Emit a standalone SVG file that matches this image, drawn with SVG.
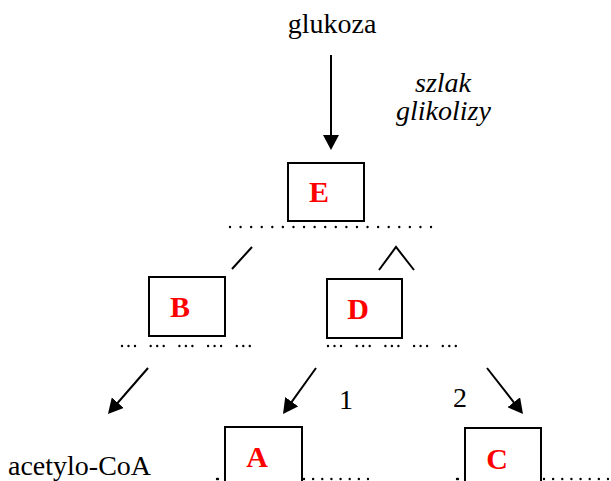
<svg xmlns="http://www.w3.org/2000/svg" width="611" height="481" viewBox="0 0 611 481">
<style>
.t{font-family:"Liberation Serif","Times New Roman",serif;font-size:28px;fill:#000}
.i{font-style:italic}
.lbl{font-family:"Liberation Serif","Times New Roman",serif;font-size:30px;font-weight:bold;fill:#ff0000;text-anchor:middle}
.box{fill:#fff;stroke:#000;stroke-width:2}
.ln{fill:none;stroke:#000;stroke-width:2}
.dot{fill:none;stroke:#000;stroke-width:2.4;stroke-linecap:round}
</style>
<defs>
<marker id="ah" markerUnits="userSpaceOnUse" markerWidth="16" markerHeight="16" refX="9" refY="8" orient="auto">
<path d="M0,0 L15,8 L0,16 z" fill="#000"/>
</marker>
</defs>
<rect width="611" height="481" fill="#fff"/>
<text class="t" x="332" y="33" text-anchor="middle">glukoza</text>
<text class="t i" x="443" y="92" text-anchor="middle">szlak</text>
<text class="t i" x="443.5" y="120" text-anchor="middle">glikolizy</text>
<text class="t" x="8" y="474.5">acetylo-CoA</text>
<text class="t" x="346" y="409" text-anchor="middle">1</text>
<text class="t" x="460" y="407" text-anchor="middle">2</text>
<g id="E"><rect class="box" x="288" y="163" width="76" height="58"/><text class="lbl" x="319" y="202">E</text></g>
<g id="B"><rect class="box" x="149" y="277" width="76" height="59"/><text class="lbl" x="180" y="317">B</text></g>
<g id="D"><rect class="box" x="327" y="279" width="75" height="59"/><text class="lbl" x="358" y="319">D</text></g>
<g id="A"><path class="box" d="M225,490 V427 H302 V490"/><text class="lbl" x="257" y="467">A</text></g>
<g id="C"><path class="box" d="M465,490 V428 H541 V490"/><text class="lbl" x="497" y="469">C</text></g>
<g id="dots">
<path class="dot" d="M230,227 H432" stroke-dasharray="0 10.58"/>
<path class="dot" d="M122,346 H255" stroke-dasharray="0 6.5 0 6.5 0 15.7"/>
<path class="dot" d="M328,346 H462" stroke-dasharray="0 6.5 0 6.5 0 15.7"/>
<path class="dot" d="M217,479 H218"/>
<path class="dot" d="M304,479 H368" stroke-dasharray="0 9.14"/>
<path class="dot" d="M457,479 H458"/>
<path class="dot" d="M544,479 H612" stroke-dasharray="0 9.14"/>
</g>
<g id="connectors">
<line class="ln" x1="331" y1="55" x2="331" y2="144" marker-end="url(#ah)"/>
<line class="ln" x1="148" y1="368" x2="111.9" y2="409.5" marker-end="url(#ah)"/>
<line class="ln" x1="316" y1="368" x2="286.5" y2="409.1" marker-end="url(#ah)"/>
<line class="ln" x1="487" y1="368" x2="519.3" y2="409.3" marker-end="url(#ah)"/>
<line class="ln" x1="232" y1="269" x2="252" y2="247"/>
<polyline class="ln" points="379,270 396,247 414,270"/>
</g>
</svg>
